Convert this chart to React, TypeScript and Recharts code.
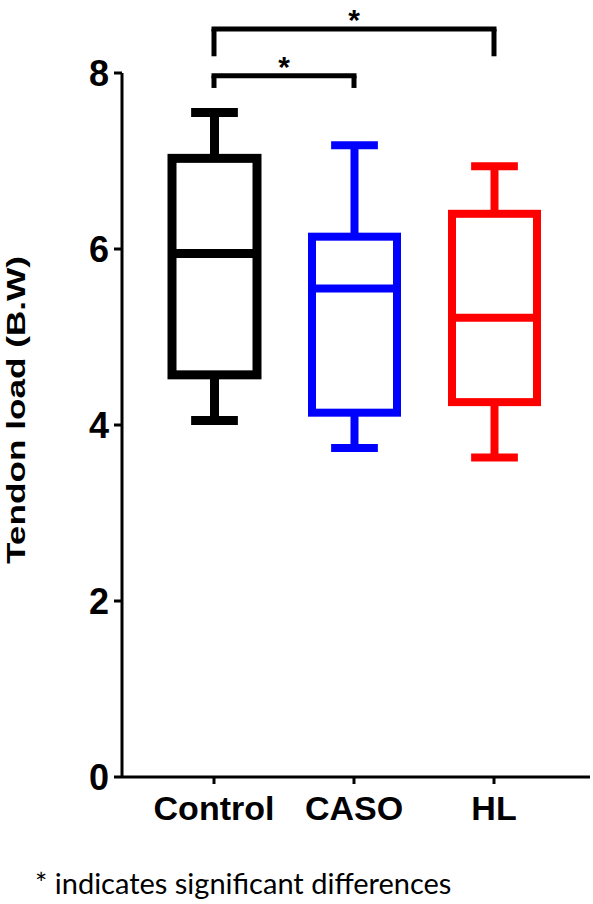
import { ComposedChart, Bar, XAxis, YAxis, ReferenceLine, Label } from "recharts"

// box plot values
const groups = ["Control", "CASO", "HL"]
const minVals = [4.05, 3.74, 3.63]
const q1Vals = [4.57, 4.14, 4.26]
const medianVals = [5.95, 5.55, 5.22]
const q3Vals = [7.03, 6.14, 6.4]
const maxVals = [7.55, 7.18, 6.94]
const yTicks = [0, 2, 4, 6, 8]

// significance brackets: [from, to, bar height, leg bottom]
const brackets: [string, string, number, number][] = [
  ["Control", "HL", 8.5, 8.19],
  ["Control", "CASO", 7.97, 7.83]
]

const boxColors = ["#000000", "#0000ff", "#ff0000"]
const boxStrokes = [9, 8, 8]

const data = groups.map((name, i) => ({
  name,
  min: minVals[i],
  q1: q1Vals[i],
  median: medianVals[i],
  q3: q3Vals[i],
  max: maxVals[i],
  range: [minVals[i], maxVals[i]]
}))

const font = "'Liberation Sans', Arial, sans-serif"

function BoxShape(props: any) {
  const { x, y, width, height, payload, index } = props
  const top = Math.min(y, y + height)
  const bottom = Math.max(y, y + height)
  const ppu = (bottom - top) / (payload.max - payload.min)
  const toY = (v: number) => bottom - (v - payload.min) * ppu
  const color = boxColors[index]
  const sw = boxStrokes[index]
  const cx = x + width / 2
  const capW = width * 0.55
  const yQ1 = toY(payload.q1)
  const yQ3 = toY(payload.q3)
  const yMed = toY(payload.median)
  return (
    <g>
      <line x1={cx} x2={cx} y1={top} y2={yQ3} stroke={color} strokeWidth={sw} />
      <line x1={cx} x2={cx} y1={yQ1} y2={bottom} stroke={color} strokeWidth={sw} />
      <line x1={cx - capW / 2} x2={cx + capW / 2} y1={top} y2={top} stroke={color} strokeWidth={sw} />
      <line x1={cx - capW / 2} x2={cx + capW / 2} y1={bottom} y2={bottom} stroke={color} strokeWidth={sw} />
      <rect x={x} y={yQ3} width={width} height={yQ1 - yQ3} fill="#fff" stroke={color} strokeWidth={sw} />
      <line x1={x} x2={x + width} y1={yMed} y2={yMed} stroke={color} strokeWidth={sw} />
    </g>
  )
}

export default function App() {
  return (
    <div style={{ position: "absolute", left: 0, top: 0, width: 593, height: 904, background: "#fff" }}>
      <ComposedChart
        width={593}
        height={904}
        data={data}
        margin={{ top: 73, right: 3, bottom: 67, left: 62 }}
      >
        <XAxis
          dataKey="name"
          padding={{ left: 22, right: 26 }}
          axisLine={{ stroke: "#000", strokeWidth: 3 }}
          tickLine={{ stroke: "#000", strokeWidth: 3 }}
          tickSize={7}
          tickMargin={12}
          height={60}
          tick={{ fill: "#000", fontSize: 34, fontWeight: "bold", fontFamily: font }}
        />
        <YAxis
          domain={[0, 8]}
          ticks={yTicks}
          width={60}
          axisLine={{ stroke: "#000", strokeWidth: 3 }}
          tickLine={{ stroke: "#000", strokeWidth: 3 }}
          tickSize={8}
          tickMargin={5}
          tick={{ fill: "#000", fontSize: 36, fontWeight: "bold", fontFamily: font }}
        >
          <Label
            content={() => (
              <text
                x={25}
                y={410}
                transform="rotate(-90 25 410)"
                textAnchor="middle"
                fontSize={25}
                fontWeight="bold"
                fontFamily={font}
                fill="#000"
                textLength={308}
                lengthAdjust="spacingAndGlyphs"
              >
                Tendon load (B.W)
              </text>
            )}
          />
        </YAxis>
        <Bar
          dataKey="range"
          barSize={85}
          shape={<BoxShape />}
          isAnimationActive={false}
        />
        {brackets.map(([a, b, h, leg], i) => [
          <ReferenceLine
            key={`h${i}`}
            segment={[{ x: a, y: h }, { x: b, y: h }]}
            stroke="#000"
            strokeWidth={5}
            strokeLinecap="square"
            ifOverflow="visible"
            label={{ value: "*", position: "top", offset: -1, fontSize: 30, fontWeight: "bold", fill: "#000", fontFamily: font }}
          />,
          <ReferenceLine
            key={`l${i}`}
            segment={[{ x: a, y: h }, { x: a, y: leg }]}
            stroke="#000"
            strokeWidth={5}
            ifOverflow="visible"
          />,
          <ReferenceLine
            key={`r${i}`}
            segment={[{ x: b, y: h }, { x: b, y: leg }]}
            stroke="#000"
            strokeWidth={5}
            ifOverflow="visible"
          />
        ])}
      </ComposedChart>
      <div
        style={{
          position: "absolute",
          left: 35,
          top: 866,
          fontFamily: "Lato, 'Open Sans', sans-serif",
          fontSize: 29,
          lineHeight: "34px",
          color: "#000",
          whiteSpace: "nowrap"
        }}
      >
        * indicates significant differences
      </div>
    </div>
  )
}
